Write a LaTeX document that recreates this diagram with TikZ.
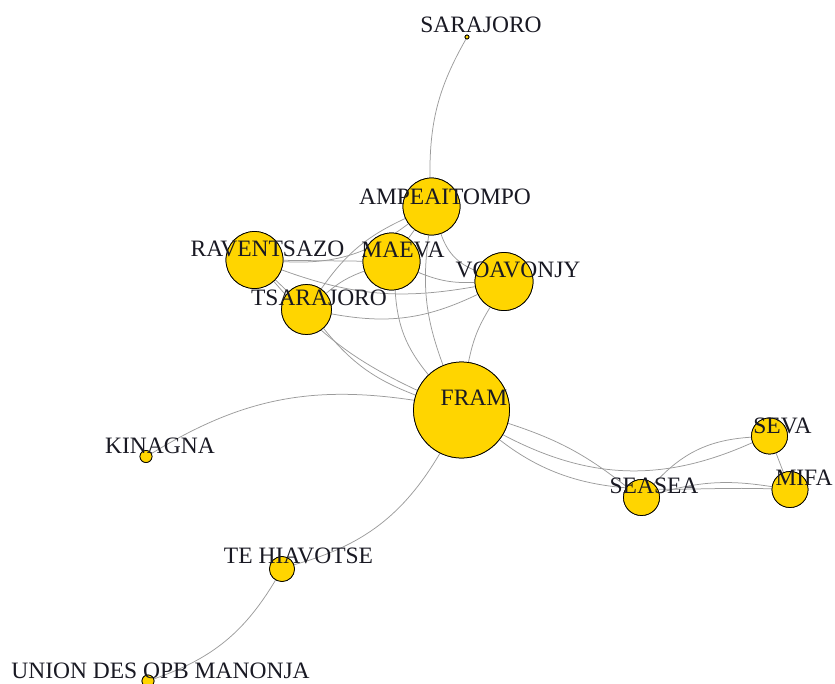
\documentclass[tikz,border=0pt]{standalone}
\usepackage{fontspec}
\setmainfont{Liberation Serif}
\definecolor{vgold}{RGB}{255,213,0}
\definecolor{egrey}{RGB}{155,155,155}
\definecolor{ltext}{RGB}{25,25,35}
\begin{document}
\begin{tikzpicture}[x=1pt,y=-1pt,
  vtx/.style={circle,draw=black,line width=0.75pt,fill=vgold,inner sep=0pt},
  edge/.style={draw=egrey,line width=0.75pt},
  lbl/.style={font=\fontsize{23.5}{28}\selectfont,text=ltext,anchor=base,inner sep=0pt}]
\useasboundingbox (0,0) rectangle (835,683);
% vertex positions (named nodes)
\path
  (461.5,410) node[vtx,minimum size=96pt] (FRAM) {}
  (431.5,206.5) node[vtx,minimum size=57pt] (AMP) {}
  (254.5,260) node[vtx,minimum size=57pt] (RAV) {}
  (391.5,261.5) node[vtx,minimum size=57pt] (MAE) {}
  (504,281.5) node[vtx,minimum size=58pt] (VOA) {}
  (306.5,309.5) node[vtx,minimum size=50pt] (TSA) {}
  (769.5,436) node[vtx,minimum size=36pt] (SEVA) {}
  (790,489.5) node[vtx,minimum size=36pt] (MIFA) {}
  (641.5,497.5) node[vtx,minimum size=36pt] (SEASEA) {}
  (282,569) node[vtx,minimum size=25pt] (TE) {}
  (148,681) node[vtx,minimum size=12pt] (UNION) {}
  (146,456.5) node[vtx,minimum size=12pt] (KIN) {}
  (467,37) node[vtx,minimum size=4pt] (SARA) {};
% edges
\draw[edge] (AMP) to[bend left=15] (SARA);
\draw[edge] (FRAM) to[bend right=20] (KIN);
\draw[edge] (FRAM) to[bend left=22] (TE);
\draw[edge] (TE) to[bend left=20] (UNION);
\draw[edge] (FRAM) to[bend right=26] (SEVA);
\draw[edge] (FRAM) to[bend left=10] (SEASEA);
\draw[edge] (FRAM) to[out=-38,in=178] (MIFA);
\draw[edge] (SEASEA) to[bend left=22] (SEVA);
\draw[edge] (SEASEA) to[bend left=12] (MIFA);
\draw[edge] (SEVA) -- (MIFA);
\draw[edge] (AMP) to[bend right=25] (VOA);
\draw[edge] (VOA) to[bend right=10] (FRAM);
\draw[edge] (MAE) to[bend right=18] (FRAM);
\draw[edge] (AMP) to[bend right=14] (FRAM);
\draw[edge] (TSA) to[bend right=15] (FRAM);
\draw[edge] (RAV) to[bend right=12] (FRAM);
\draw[edge] (RAV) -- (MAE);
\draw[edge] (RAV) to[bend right=20] (AMP);
\draw[edge] (AMP) to[bend right=15] (TSA);
\draw[edge] (TSA) to[bend right=18] (VOA);
\draw[edge] (RAV) to[bend right=15] (VOA);
\draw[edge] (MAE) to[bend right=12] (VOA);
\draw[edge] (TSA) to[bend left=10] (MAE);
\draw[edge] (MAE) -- (AMP);
\draw[edge] (RAV) -- (TSA);
% vertices drawn on top of the edges
\foreach \n/\r in {FRAM/48,AMP/28.5,RAV/28.5,MAE/28.5,VOA/29,TSA/25,SEVA/18,MIFA/18,SEASEA/18,TE/12.5,UNION/6,KIN/6,SARA/2}
  \draw[line width=0.75pt,fill=vgold] (\n.center) circle[radius=\r pt];
% labels
\node[lbl] (lAMP) at (445,204) {AMPEAITOMPO};
\node[lbl] (lRAV) at (267.5,256.5) {RAVENTSAZO};
\node[lbl] (lMAE) at (403,257.5) {MAEVA};
\node[lbl] (lVOA) at (518,277) {VOAVONJY};
\node[lbl] (lTSA) at (319,305.5) {TSARAJORO};
\node[lbl] (lFRAM) at (474,405.5) {FRAM};
\node[lbl] (lSEVA) at (782.5,433) {SEVA};
\node[lbl] (lMIFA) at (804,485.5) {MIFA};
\node[lbl] (lSEASEA) at (654,493) {SEASEA};
\node[lbl] (lTE) at (298.5,563) {TE HIAVOTSE};
\node[lbl] (lUNION) at (160.5,678) {UNION DES OPB MANONJA};
\node[lbl] (lKIN) at (160,453) {KINAGNA};
\node[lbl] (lSARA) at (481,32.5) {SARAJORO};
\end{tikzpicture}
\end{document}
